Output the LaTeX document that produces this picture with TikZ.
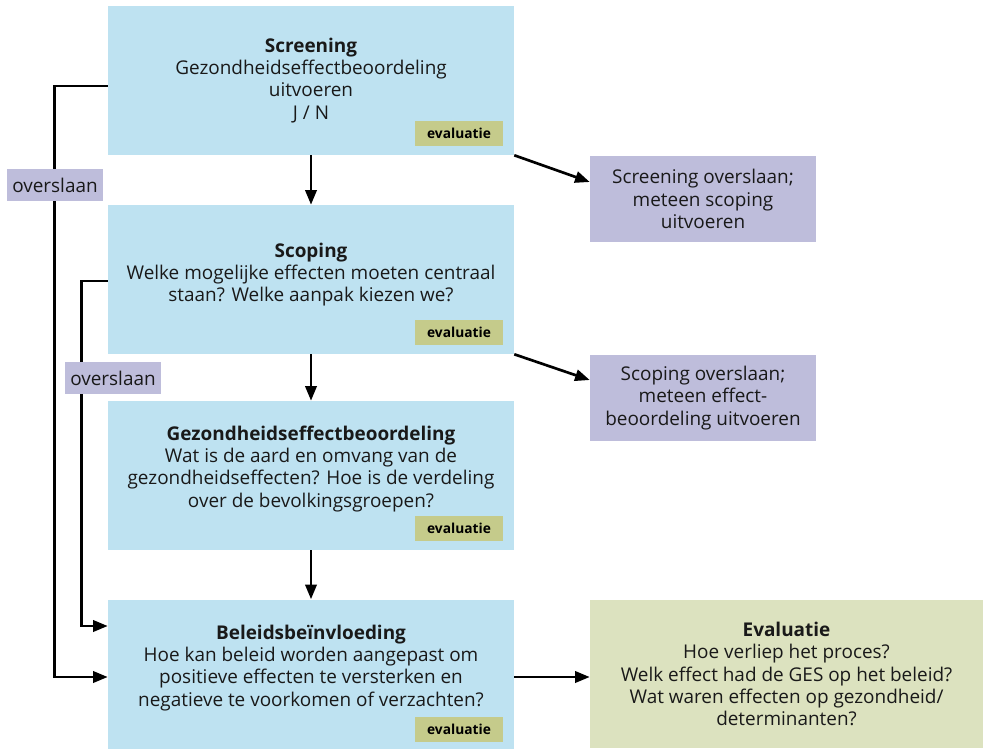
\documentclass[tikz,border=0pt]{standalone}
\usepackage{fontspec}
\setmainfont{Open Sans}
\usetikzlibrary{arrows.meta}
\definecolor{phaseblue}{HTML}{BEE2F1}
\definecolor{tagolive}{HTML}{C5CB8B}
\definecolor{skiplila}{HTML}{BEBDDB}
\definecolor{evalgreen}{HTML}{DCE2BF}
\newcommand{\midX}{311}
\newcommand{\skipX}{703}

\begin{document}
\begin{tikzpicture}[x=0.75pt,y=-0.75pt,
    phase/.style={fill=phaseblue, minimum width=304.5pt, minimum height=111.75pt},
    txt/.style={align=center, font=\fontsize{14.2}{16.6}\selectfont, text=black!90},
    tag/.style={fill=tagolive, minimum width=66pt, minimum height=18.75pt, inner sep=0pt,
        font=\fontsize{10.3}{12}\selectfont\bfseries, anchor=south east},
    skipbox/.style={fill=skiplila, minimum width=169.5pt, minimum height=64.5pt, txt},
    skiplabel/.style={fill=skiplila, minimum width=72pt, minimum height=24pt, inner sep=0pt, txt},
    link/.style={line width=2pt, -{Triangle[length=11pt,width=8.5pt]}}]

        \useasboundingbox (0,0) rectangle (984,749);

        % The four phases
        \node[phase] (screen) at (\midX,80.5) {};
        \node[phase] (scoping) at (\midX,279.5) {};
        \node[phase] (gez) at (\midX,475.5) {};
        \node[phase] (beleid) at (\midX,674) {};

        \node[txt] (screentxt) at ([yshift=0pt]screen.center)
            {\textbf{Screening}\\Gezondheidseffectbeoordeling\\uitvoeren\\J / N};
        \node[txt] (scopingtxt) at ([yshift=3.5pt]scoping.center)
            {\textbf{Scoping}\\Welke mogelijke effecten moeten centraal\\staan? Welke aanpak kiezen we?};
        \node[txt] (geztxt) at ([yshift=5pt]gez.center)
            {\textbf{Gezondheidseffectbeoordeling}\\Wat is de aard en omvang van de\\gezondheidseffecten? Hoe is de verdeling\\over de bevolkingsgroepen?};
        \node[txt] (beleidtxt) at ([yshift=4.5pt]beleid.center)
            {\textbf{Beleidsbeïnvloeding}\\Hoe kan beleid worden aangepast om\\positieve effecten te versterken en\\negatieve te voorkomen of verzachten?};

        % evaluatie tags
        \node[tag] (screentag) at ([xshift=-8.25pt,yshift=6.75pt]screen.south east) {evaluatie};
        \node[tag] (scopingtag) at ([xshift=-8.25pt,yshift=6.75pt]scoping.south east) {evaluatie};
        \node[tag] (geztag) at ([xshift=-8.25pt,yshift=6.75pt]gez.south east) {evaluatie};
        \node[tag] (beleidtag) at ([xshift=-8.25pt,yshift=5.25pt]beleid.south east) {evaluatie};

        % Boxes on the right
        \node[skipbox] (scrskip) at (\skipX,199) {Screening overslaan;\\meteen scoping\\uitvoeren};
        \node[skipbox] (scopskip) at (\skipX,398) {Scoping overslaan;\\meteen effect-\\beoordeling uitvoeren};
        \node[fill=evalgreen, minimum width=294.75pt, minimum height=111pt, txt] (eval) at (786.5,674)
            {\textbf{Evaluatie}\\Hoe verliep het proces?\\Welk effect had de GES op het beleid?\\Wat waren effecten op gezondheid/\\determinanten?};

        % Arrows down
        \draw[link] (screen) -- (scoping);
        \draw[link] (scoping) -- (gez);
        \draw[link] (gez) -- (beleid);

        % Arrows to the right
        \draw[link] (screen.south east) -- ([yshift=12.75pt]scrskip.west);
        \draw[link] (scoping.south east) -- ([yshift=13.5pt]scopskip.west);
        \draw[link] ([yshift=-2.25pt]beleid.east) -- ([yshift=-2.25pt]eval.west);

        % Lines on the left
        \draw[link] ([yshift=-4pt]screen.west) -- ++(-53,0) |- ([yshift=-2.25pt]beleid.west);
        \draw[link] ([yshift=-1pt]scoping.west) -- ++(-26,0) |- ([yshift=36pt]beleid.west);

        % overslaan labels on top of the lines
        \node[skiplabel] (skipone) at (55,185) {overslaan};
        \node[skiplabel] (skiptwo) at (113,378) {overslaan};
    \end{tikzpicture}
\end{document}
